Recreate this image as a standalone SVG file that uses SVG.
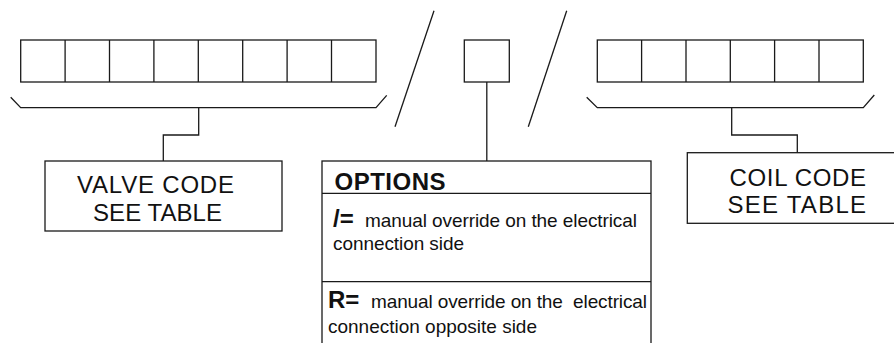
<svg xmlns="http://www.w3.org/2000/svg" width="894" height="343" viewBox="0 0 894 343">
<style>
.ln{fill:none;stroke:#1a1a1a;stroke-width:1.3}
.cell{fill:#fff;stroke:#1a1a1a;stroke-width:1.3}
.big{font-family:"Liberation Sans",Arial,sans-serif;font-size:24px;fill:#111}
.bold{font-family:"Liberation Sans",Arial,sans-serif;font-size:24px;font-weight:bold;fill:#111}
.txt{font-family:"Liberation Sans",Arial,sans-serif;font-size:19px;fill:#111}
</style>
<rect width="894" height="343" fill="#fff"/>
<g id="valve-cells">
<rect class="cell" x="20.7" y="40" width="355.3" height="42"/>
<path class="ln" d="M65.1 40V82M109.5 40V82M153.9 40V82M198.3 40V82M242.7 40V82M287.1 40V82M331.5 40V82"/>
</g>
<g id="slash1"><path class="ln" d="M434 10.7L395 126.7"/></g>
<g id="option-cell"><rect class="cell" x="464.3" y="40" width="45" height="42"/></g>
<g id="slash2"><path class="ln" d="M566.7 10.7L528.3 126.7"/></g>
<g id="coil-cells">
<rect class="cell" x="597.3" y="40" width="266" height="42"/>
<path class="ln" d="M641.6 40V82M686 40V82M730.3 40V82M774.6 40V82M819 40V82"/>
</g>
<g id="connectors">
<path class="ln" d="M10.7 97.3L20.7 107.7H376L386.7 95.3"/>
<path class="ln" d="M198.7 107.7V135H163.3V161"/>
<path class="ln" d="M486.8 82V161"/>
<path class="ln" d="M586.7 97.3L597.3 107.7H863.3L874.3 95"/>
<path class="ln" d="M731.7 107.7V135H797.3V152.7"/>
</g>
<g id="valve-code">
<rect class="cell" x="45" y="161" width="237" height="70"/>
<text class="big" x="77" y="192.5" textLength="157" lengthAdjust="spacing">VALVE CODE</text>
<text class="big" x="93" y="220.5" textLength="129" lengthAdjust="spacing">SEE TABLE</text>
</g>
<g id="options">
<rect class="cell" x="322" y="161" width="329" height="200"/>
<path class="ln" d="M322 193.3H651M322 281.7H651"/>
<text class="bold" x="334.5" y="189.5" textLength="111" lengthAdjust="spacing">OPTIONS</text>
<text class="bold" x="333" y="227">/=</text>
<text class="txt" x="365" y="227" textLength="272" lengthAdjust="spacing">manual override on the electrical</text>
<text class="txt" x="333" y="250" textLength="131" lengthAdjust="spacing">connection side</text>
<text class="bold" x="328" y="307.5">R=</text>
<text class="txt" x="371" y="307.5" xml:space="preserve" textLength="276" lengthAdjust="spacing">manual override on the  electrical</text>
<text class="txt" x="328" y="333" textLength="209" lengthAdjust="spacing">connection opposite side</text>
</g>
<g id="coil-code">
<rect class="cell" x="687.3" y="152.7" width="230" height="70.6"/>
<text class="big" x="729.5" y="185.5" textLength="136.5" lengthAdjust="spacing">COIL CODE</text>
<text class="big" x="727.5" y="213" textLength="138.5" lengthAdjust="spacing">SEE TABLE</text>
</g>
</svg>
